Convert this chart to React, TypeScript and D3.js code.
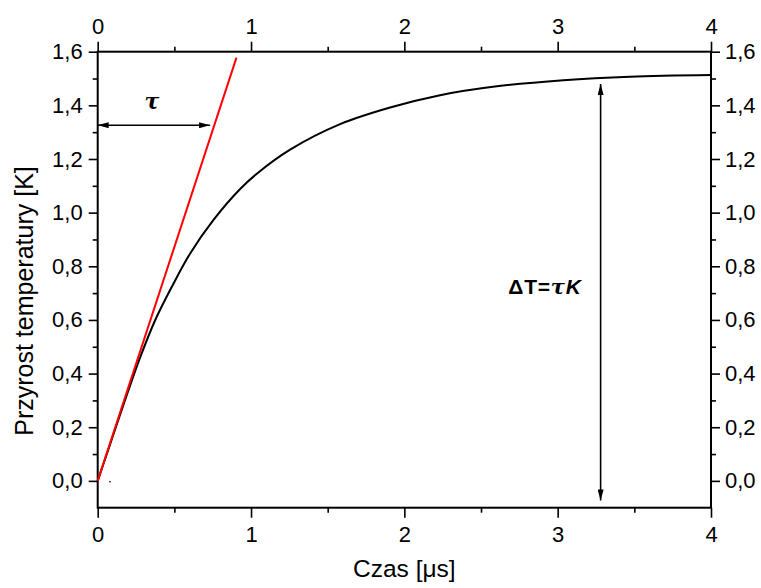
import { useEffect, useRef } from "react";
import * as d3 from "d3";

// curve
const timeUs = [0, 0.07, 0.2, 0.28, 0.374, 0.483, 0.602, 0.754, 0.929, 1.048, 1.255, 1.581, 1.907, 2.233, 2.603, 3.037, 3.472, 4.0];
const deltaT = [0, 0.118, 0.337, 0.465, 0.598, 0.723, 0.847, 0.972, 1.088, 1.15, 1.235, 1.33, 1.392, 1.438, 1.471, 1.494, 1.507, 1.513];

// tangent at the origin
const tangentT = [0, 0.905];
const tangentV = [0, 1.578];

const xMajor = [0, 1, 2, 3, 4];
const xMinor = [0.5, 1.5, 2.5, 3.5];
const yMajor = [0, 0.2, 0.4, 0.6, 0.8, 1.0, 1.2, 1.4, 1.6];
const yMinor = [0.1, 0.3, 0.5, 0.7, 0.9, 1.1, 1.3, 1.5];

// annotations
const tauArrowY = 1.326;
const tauArrowT = [0, 0.733];
const dTArrowT = 3.28;
const dTArrowV = [-0.073, 1.48];

const W = 761, H = 588;
const FONT = "'Liberation Sans', Arial, sans-serif";
const SERIF = "'DejaVu Serif', 'Liberation Serif', serif";

export default function App() {
  const ref = useRef<SVGSVGElement>(null);

  useEffect(() => {
    const svg = d3.select(ref.current);
    svg.selectAll("*").remove();

    const x = d3.scaleLinear().domain([0, 4]).range([97.7, 711]);
    const y = d3.scaleLinear().domain([-0.1, 1.6]).range([507.7, 51.7]);
    const fmt = (d: number) => d3.format(".1f")(d).replace(".", ",");

    const defs = svg.append("defs");
    defs.append("marker")
      .attr("id", "ah")
      .attr("viewBox", "0 0 11 6")
      .attr("refX", 11).attr("refY", 3)
      .attr("markerWidth", 11).attr("markerHeight", 6)
      .attr("markerUnits", "userSpaceOnUse")
      .attr("orient", "auto-start-reverse")
      .append("path").attr("d", "M0,0 L11,3 L0,6 Z").attr("fill", "#000");

    const styleAxis = (g: any, size: number) => {
      g.select(".domain").remove();
      g.selectAll("line").attr("stroke", "#000").attr("stroke-width", 1.6);
      g.selectAll("text").attr("font-family", FONT).attr("font-size", size).attr("fill", "#000");
    };

    // minor ticks
    svg.append("g").attr("transform", `translate(0,${y(-0.1)})`)
      .call(d3.axisBottom(x).tickValues(xMinor).tickSize(5).tickFormat(() => ""))
      .call((g: any) => styleAxis(g, 22));
    svg.append("g").attr("transform", `translate(0,${y(1.6)})`)
      .call(d3.axisTop(x).tickValues(xMinor).tickSize(5).tickFormat(() => ""))
      .call((g: any) => styleAxis(g, 22));
    svg.append("g").attr("transform", `translate(${x(0)},0)`)
      .call(d3.axisLeft(y).tickValues(yMinor).tickSize(5).tickFormat(() => ""))
      .call((g: any) => styleAxis(g, 22));
    svg.append("g").attr("transform", `translate(${x(4)},0)`)
      .call(d3.axisRight(y).tickValues(yMinor).tickSize(5).tickFormat(() => ""))
      .call((g: any) => styleAxis(g, 22));

    // major ticks and labels
    svg.append("g").attr("transform", `translate(0,${y(-0.1)})`)
      .call(d3.axisBottom(x).tickValues(xMajor).tickSize(10).tickPadding(9).tickFormat(d3.format("d")))
      .call((g: any) => styleAxis(g, 22));
    svg.append("g").attr("transform", `translate(0,${y(1.6)})`)
      .call(d3.axisTop(x).tickValues(xMajor).tickSize(10).tickPadding(8).tickFormat(d3.format("d")))
      .call((g: any) => styleAxis(g, 22));
    svg.append("g").attr("transform", `translate(${x(0)},0)`)
      .call(d3.axisLeft(y).tickValues(yMajor).tickSize(9).tickPadding(6).tickFormat(fmt as any))
      .call((g: any) => styleAxis(g, 22));
    svg.append("g").attr("transform", `translate(${x(4)},0)`)
      .call(d3.axisRight(y).tickValues(yMajor).tickSize(9).tickPadding(5).tickFormat(fmt as any))
      .call((g: any) => styleAxis(g, 22));

    // frame
    svg.append("rect")
      .attr("x", x(0)).attr("y", y(1.6))
      .attr("width", x(4) - x(0)).attr("height", y(-0.1) - y(1.6))
      .attr("fill", "none").attr("stroke", "#000").attr("stroke-width", 2);

    // curve
    const pts = timeUs.map((t, i) => [t, deltaT[i]] as [number, number]);
    svg.append("path")
      .datum(pts)
      .attr("d", d3.line<[number, number]>().x(d => x(d[0])).y(d => y(d[1])).curve(d3.curveCatmullRom.alpha(0.5)))
      .attr("fill", "none").attr("stroke", "#000").attr("stroke-width", 2);

    // tangent
    svg.append("line")
      .attr("x1", x(tangentT[0])).attr("y1", y(tangentV[0]))
      .attr("x2", x(tangentT[1])).attr("y2", y(tangentV[1]))
      .attr("stroke", "#ff0000").attr("stroke-width", 2);

    // stray point near origin
    svg.append("rect").attr("x", x(0.08) - 0.7).attr("y", y(-0.003) - 0.7)
      .attr("width", 1.4).attr("height", 1.4).attr("fill", "#000");

    // tau arrow
    svg.append("line")
      .attr("x1", x(tauArrowT[0])).attr("y1", y(tauArrowY))
      .attr("x2", x(tauArrowT[1])).attr("y2", y(tauArrowY))
      .attr("stroke", "#000").attr("stroke-width", 1.6)
      .attr("marker-start", "url(#ah)").attr("marker-end", "url(#ah)");
    svg.append("text")
      .attr("x", x((tauArrowT[0] + tauArrowT[1]) / 2) - 2).attr("y", y(tauArrowY) - 16)
      .attr("text-anchor", "middle")
      .attr("font-family", SERIF)
      .attr("font-style", "italic").attr("font-weight", "bold").attr("font-size", 22)
      .text("τ");

    // delta T arrow
    svg.append("line")
      .attr("x1", x(dTArrowT)).attr("y1", y(dTArrowV[0]))
      .attr("x2", x(dTArrowT)).attr("y2", y(dTArrowV[1]))
      .attr("stroke", "#000").attr("stroke-width", 1.6)
      .attr("marker-start", "url(#ah)").attr("marker-end", "url(#ah)");
    const lbl = svg.append("text")
      .attr("x", 545).attr("y", 294)
      .attr("text-anchor", "middle")
      .attr("font-family", FONT).attr("font-weight", "bold").attr("font-size", 21)
      .attr("letter-spacing", 0.8);
    lbl.append("tspan").text("ΔT=");
    lbl.append("tspan").attr("font-family", SERIF).attr("font-style", "italic").text("τ");
    lbl.append("tspan").attr("font-style", "italic").text("K");

    // axis titles
    svg.append("text")
      .attr("x", x(2)).attr("y", 577)
      .attr("text-anchor", "middle")
      .attr("font-family", FONT).attr("font-size", 24.5)
      .text("Czas [μs]");
    svg.append("text")
      .attr("transform", `translate(33,301) rotate(-90)`)
      .attr("text-anchor", "middle")
      .attr("font-family", FONT).attr("font-size", 25)
      .text("Przyrost temperatury [K]");
  }, []);

  return (
    <svg ref={ref} width={W} height={H}
      style={{ position: "absolute", left: 0, top: 0, background: "#fff" }} />
  );
}
